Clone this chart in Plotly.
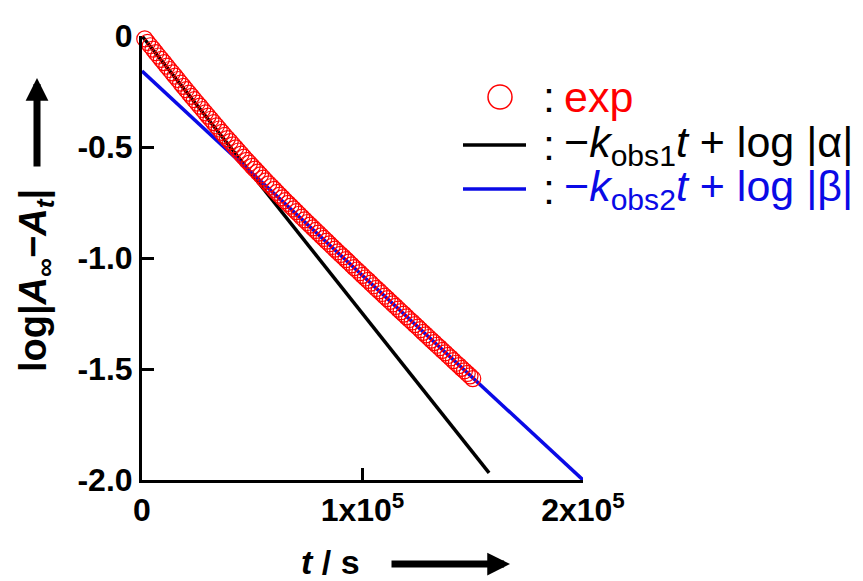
import plotly.graph_objects as go

# Measured decay: time (s) and log|A_inf - A_t|
t_exp = [0, 1250, 2500, 3750, 5000, 6250, 7500, 8750, 10000, 11250,
         12500, 13750, 15000, 16250, 17500, 18750, 20000, 21250, 22500, 23750,
         25000, 26250, 27500, 28750, 30000, 31250, 32500, 33750, 35000, 36250,
         37500, 38750, 40000, 41250, 42500, 43750, 45000, 46250, 47500, 48750,
         50000, 51250, 52500, 53750, 55000, 56250, 57500, 58750, 60000, 61250,
         62500, 63750, 65000, 66250, 67500, 68750, 70000, 71250, 72500, 73750,
         75000, 76250, 77500, 78750, 80000, 81250, 82500, 83750, 85000, 86250,
         87500, 88750, 90000, 91250, 92500, 93750, 95000, 96250, 97500, 98750,
         100000, 101250, 102500, 103750, 105000, 106250, 107500, 108750, 110000, 111250,
         112500, 113750, 115000, 116250, 117500, 118750, 120000, 121250, 122500, 123750,
         125000, 126250, 127500, 128750, 130000, 131250, 132500, 133750, 135000, 136250,
         137500, 138750, 140000, 141250, 142500, 143750, 145000, 146250, 147500, 148750,
         150000]
log_exp = [0.002, -0.013, -0.029, -0.044, -0.059, -0.075, -0.090, -0.105, -0.120, -0.136,
           -0.151, -0.166, -0.181, -0.196, -0.212, -0.227, -0.242, -0.257, -0.272, -0.287,
           -0.302, -0.316, -0.331, -0.346, -0.361, -0.375, -0.390, -0.405, -0.419, -0.434,
           -0.448, -0.462, -0.476, -0.490, -0.504, -0.518, -0.532, -0.546, -0.560, -0.573,
           -0.587, -0.600, -0.613, -0.626, -0.640, -0.653, -0.666, -0.678, -0.691, -0.704,
           -0.717, -0.729, -0.742, -0.754, -0.766, -0.779, -0.791, -0.803, -0.816, -0.828,
           -0.840, -0.852, -0.864, -0.876, -0.888, -0.900, -0.912, -0.924, -0.936, -0.948,
           -0.960, -0.972, -0.984, -0.995, -1.007, -1.019, -1.031, -1.043, -1.054, -1.066,
           -1.078, -1.090, -1.101, -1.113, -1.125, -1.137, -1.148, -1.160, -1.172, -1.183,
           -1.195, -1.207, -1.218, -1.230, -1.242, -1.253, -1.265, -1.277, -1.288, -1.300,
           -1.311, -1.323, -1.335, -1.346, -1.358, -1.370, -1.381, -1.393, -1.404, -1.416,
           -1.427, -1.439, -1.450, -1.462, -1.474, -1.485, -1.497, -1.508, -1.520, -1.531,
           -1.543]

# Fitted lines (end points)
t_fit1 = [0, 157400]
log_fit1 = [0.0, -1.968]
t_fit2 = [0, 200000]
log_fit2 = [-0.158, -2.0]

# Axis ticks
x_ticks = [0, 100000, 200000]
x_ticklabels = ["0", "1x10<sup>5</sup>", "2x10<sup>5</sup>"]
y_ticks = [0, -0.5, -1.0, -1.5, -2.0]
y_ticklabels = ["0", "-0.5", "-1.0", "-1.5", "-2.0"]

FONT = "Liberation Sans, Arial, sans-serif"
W, H = 863, 581
L, R, T, B = 142, 280, 36, 101
PW, PH = W - L - R, H - T - B
BLUE = "#0a0ae6"


def px(x):
    return (x - L) / PW


def py(y):
    return (H - B - y) / PH


fig = go.Figure()
fig.add_trace(go.Scatter(x=t_fit1, y=log_fit1, mode="lines",
                         line=dict(color="black", width=3.5), showlegend=False))
fig.add_trace(go.Scatter(x=t_fit2, y=log_fit2, mode="lines",
                         line=dict(color=BLUE, width=3.5), showlegend=False))
fig.add_trace(go.Scatter(x=t_exp, y=log_exp, mode="markers", cliponaxis=False,
                         marker=dict(symbol="circle-open", size=16, color="#ff0000",
                                     line=dict(width=1.2, color="#ff0000")),
                         showlegend=False))

axis_common = dict(showline=True, linecolor="black", linewidth=3, mirror=False,
                   ticks="inside", ticklen=12, tickwidth=2.5, tickcolor="black",
                   showgrid=False, zeroline=False,
                   tickfont=dict(family=FONT, size=32, color="black", weight="bold"))

fig.update_xaxes(range=[0, 200000], tickvals=x_ticks, ticktext=x_ticklabels, **axis_common)
fig.update_yaxes(range=[-2.0, 0], tickvals=y_ticks, ticktext=y_ticklabels, **axis_common)

ann = []
# axis titles
ann.append(dict(x=px(330), y=py(562), xref="paper", yref="paper", showarrow=False,
                text="<i>t</i> / s", font=dict(family=FONT, size=34, color="black", weight="bold"),
                xanchor="center", yanchor="middle"))
ann.append(dict(x=px(36), y=py(281), xref="paper", yref="paper", showarrow=False,
                text="log|<i>A</i><sub>∞</sub>−<i>A</i><sub><i>t</i></sub>|", textangle=-90,
                font=dict(family=FONT, size=38, color="black", weight="bold"),
                xanchor="center", yanchor="middle"))
# title arrows
ann.append(dict(x=px(510), y=py(564), xref="paper", yref="paper", text="", showarrow=True,
                ax=-120, ay=0, arrowhead=2, arrowwidth=7, arrowsize=0.65, arrowcolor="black"))
ann.append(dict(x=px(37), y=py(78), xref="paper", yref="paper", text="", showarrow=True,
                ax=0, ay=90, arrowhead=2, arrowwidth=7, arrowsize=0.65, arrowcolor="black"))

# legend entries
leg_font = dict(family=FONT, size=43)
rows = [(97, "exp", "#ff0000"),
        (145, "−<i>k</i><sub>obs1</sub><i>t</i> + log |α|", "black"),
        (189, "−<i>k</i><sub>obs2</sub><i>t</i> + log |β|", BLUE)]
for yv, txt, col in rows:
    ann.append(dict(x=px(541), y=py(yv), xref="paper", yref="paper", showarrow=False,
                    text=":", font=dict(leg_font, color="black"), xanchor="left", yanchor="middle"))
    ann.append(dict(x=px(562), y=py(yv), xref="paper", yref="paper", showarrow=False,
                    text=txt, font=dict(leg_font, color=col), xanchor="left", yanchor="middle"))

shapes = [
    dict(type="circle", xref="paper", yref="paper", xsizemode="pixel", ysizemode="pixel",
         xanchor=px(500), yanchor=py(97), x0=-12, x1=12, y0=-12, y1=12,
         line=dict(color="#ff0000", width=1.5)),
    dict(type="line", xref="paper", yref="paper", x0=px(463), x1=px(526), y0=py(145), y1=py(145),
         line=dict(color="black", width=3.5)),
    dict(type="line", xref="paper", yref="paper", x0=px(463), x1=px(526), y0=py(189), y1=py(189),
         line=dict(color=BLUE, width=3.5)),
]

fig.update_layout(width=W, height=H, autosize=False,
                  margin=dict(l=L, r=R, t=T, b=B, pad=0),
                  paper_bgcolor="white", plot_bgcolor="white",
                  annotations=ann, shapes=shapes, showlegend=False)

fig.write_html("out.html")
